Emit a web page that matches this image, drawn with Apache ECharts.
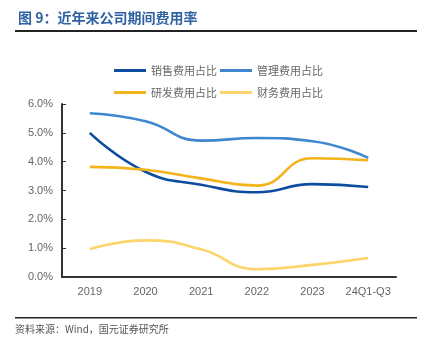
<!DOCTYPE html>
<html><head><meta charset="utf-8">
<script src="https://cdn.jsdelivr.net/npm/echarts@6/dist/echarts.min.js"></script>
<style>html,body{margin:0;padding:0;background:#fff}#c{width:430px;height:338px}</style>
</head><body><div id="c"></div>
<script>
const categories = ['2019','2020','2021','2022','2023','24Q1-Q3'];
const seriesNames = ['销售费用占比','管理费用占比','研发费用占比','财务费用占比'];
const sales = [5.0, 3.65, 3.2, 2.94, 3.22, 3.12];
const admin = [5.68, 5.4, 4.73, 4.82, 4.71, 4.13];
const rnd = [3.82, 3.72, 3.42, 3.17, 4.12, 4.05];
const finance = [0.97, 1.27, 0.96, 0.27, 0.42, 0.66];
const colors = ['#0d4d9f','#3f88d0','#f4b21b','#fdd46a'];

const chart = echarts.init(document.getElementById('c'), null, {renderer:'canvas'});
const mk = (name, data, i) => ({
  name, type:'line', data, smooth:0.5, showSymbol:false, symbol:'none',
  lineStyle:{width:2.6, color:colors[i]}, itemStyle:{color:colors[i]}
});
const legendBase = {
  icon:'rect', itemWidth:32, itemHeight:3, itemGap:3, left:114, padding:0,
  textStyle:{fontFamily:'Noto Sans CJK SC', fontSize:11, color:'#666'}
};
chart.setOption({
  animation:false,
  color:colors,
  title:{text:'图 9：近年来公司期间费用率', left:13, top:6,
    textStyle:{fontFamily:'Noto Sans CJK SC', fontSize:14, fontWeight:'bold', color:'#2e62a3'}},
  legend:[
    Object.assign({}, legendBase, {top:65, data:[seriesNames[0], seriesNames[1]]}),
    Object.assign({}, legendBase, {top:87, data:[seriesNames[2], seriesNames[3]]})
  ],
  grid:{left:62, right:34, top:104, bottom:61, containLabel:false},
  xAxis:{type:'category', data:categories, boundaryGap:true,
    axisLine:{lineStyle:{color:'#333', width:2}},
    axisTick:{inside:true, length:4, lineStyle:{color:'#333'}},
    axisLabel:{interval:0, color:'#666', fontSize:11, fontFamily:'Liberation Sans', margin:9}},
  yAxis:{type:'value', min:0, max:6, interval:1,
    axisLine:{show:true, lineStyle:{color:'#333', width:2}},
    axisTick:{show:true, inside:true, length:4, lineStyle:{color:'#333'}},
    splitLine:{show:false},
    axisLabel:{color:'#666', fontSize:11, fontFamily:'Liberation Sans', margin:9,
      formatter:v=>v.toFixed(1)+'%'}},
  series:[mk(seriesNames[0],sales,0), mk(seriesNames[1],admin,1), mk(seriesNames[2],rnd,2), mk(seriesNames[3],finance,3)],
  graphic:[
    {type:'rect', shape:{x:15, y:30, width:402, height:2}, style:{fill:'#222'}},
    {type:'rect', shape:{x:15, y:317, width:402, height:1.5}, style:{fill:'#222'}},
    {type:'text', left:15, top:324, style:{text:'资料来源：Wind，国元证券研究所', fontFamily:'Noto Sans CJK SC', fontSize:10, fill:'#555'}}
  ]
});
</script></body></html>
